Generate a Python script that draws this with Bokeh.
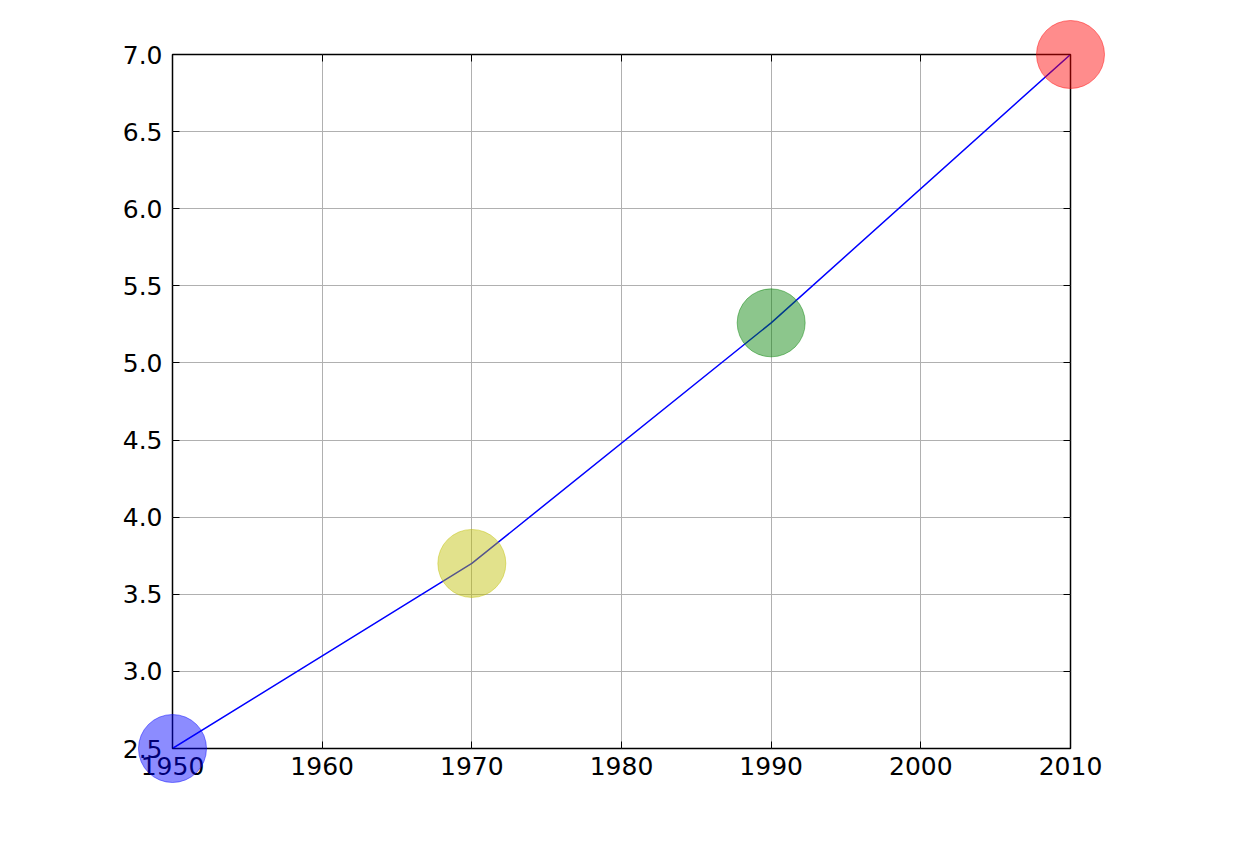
from bokeh.plotting import figure
from bokeh.models import FixedTicker, LinearAxis, Range1d, NumeralTickFormatter
from bokeh.embed import file_html
from bokeh.resources import INLINE

years = [1950, 1970, 1990, 2010]
values = [2.5, 3.7, 5.26, 7.0]
colors = ["#0000ff", "#bfbf00", "#008000", "#ff0000"]
x_ticks = [1950, 1960, 1970, 1980, 1990, 2000, 2010]
y_ticks = [2.5, 3.0, 3.5, 4.0, 4.5, 5.0, 5.5, 6.0, 6.5, 7.0]

W, H = 1230, 840
p = figure(width=W, height=H, output_backend="svg", toolbar_location=None,
           x_range=Range1d(1950, 2010), y_range=Range1d(2.5, 7.0),
           min_border_left=172, min_border_right=W - 1070, min_border_top=54, min_border_bottom=H - 748,
           x_axis_location=None, y_axis_location=None)
p.background_fill_color = "white"
p.border_fill_color = "white"
p.outline_line_color = "black"
p.outline_line_width = 1.5

def style_axis(ax, labels=True):
    ax.axis_line_color = None
    ax.major_tick_in = 7
    ax.major_tick_out = 0
    ax.minor_tick_line_color = None
    ax.major_tick_line_color = "black"
    ax.major_label_text_font = "DejaVu Sans"
    ax.major_label_text_font_size = "25px"
    ax.major_label_text_color = "black"
    if not labels:
        ax.major_label_text_font_size = "0px"
        ax.major_label_text_color = None

xb = LinearAxis(ticker=FixedTicker(ticks=x_ticks))
style_axis(xb)
xb.major_label_standoff = 8
p.add_layout(xb, "below")
xt = LinearAxis(ticker=FixedTicker(ticks=x_ticks))
style_axis(xt, labels=False)
p.add_layout(xt, "above")

yl = LinearAxis(ticker=FixedTicker(ticks=y_ticks), formatter=NumeralTickFormatter(format="0.0"))
style_axis(yl)
yl.major_label_standoff = 10
p.add_layout(yl, "left")
yr = LinearAxis(ticker=FixedTicker(ticks=y_ticks))
style_axis(yr, labels=False)
p.add_layout(yr, "right")

p.xgrid.ticker = FixedTicker(ticks=x_ticks)
p.ygrid.ticker = FixedTicker(ticks=y_ticks)
for g in (p.xgrid[0], p.ygrid[0]):
    g.grid_line_color = "#b0b0b0"
    g.grid_line_width = 1

p.line(years, values, line_color="#0000ff", line_width=1.5)
r = p.scatter(years, values, size=68, fill_color=colors, line_color=colors,
              fill_alpha=0.45, line_alpha=0.45)
r.level = "overlay"

open("out.html", "w").write(file_html(p, INLINE))
